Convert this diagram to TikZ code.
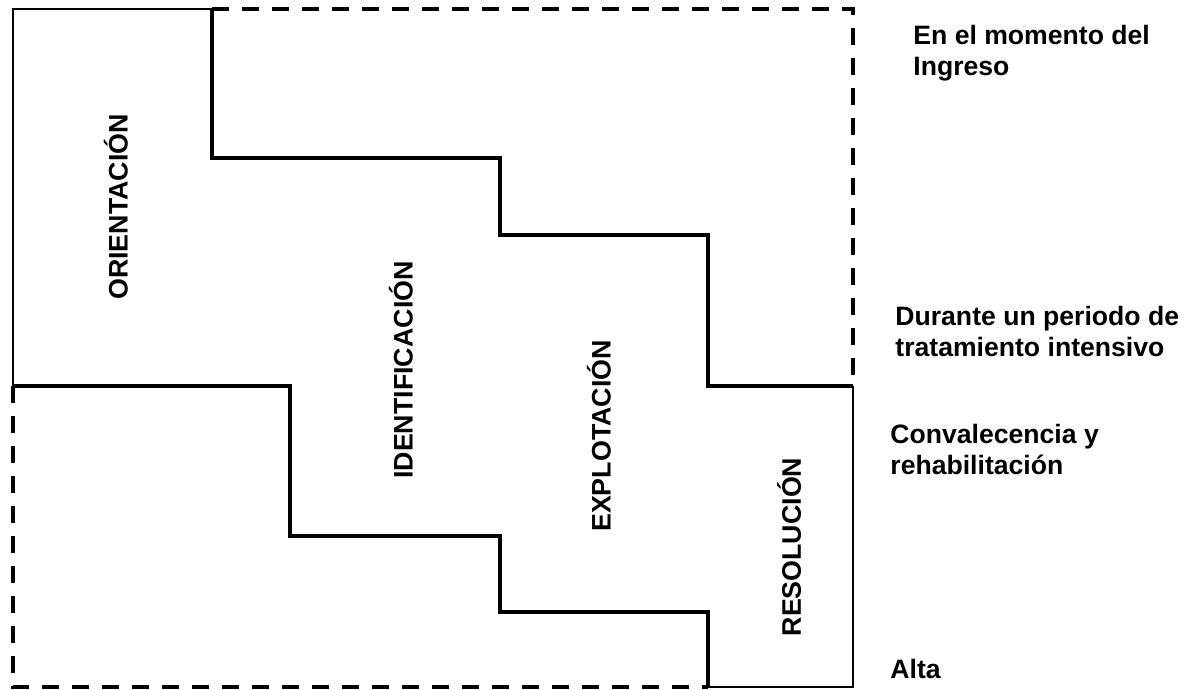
\documentclass[tikz,border=0pt]{standalone}
\usepackage{fontspec}
\setsansfont{Liberation Sans}
\usetikzlibrary{calc}

\begin{document}
\begin{tikzpicture}[
                % one unit is one pixel of the reference
                x=0.5pt, y=-0.5pt,
                frame/.style={line width=0.6pt},
                stair/.style={line width=1.6pt, line join=miter},
                dashframe/.style={line width=1.6pt, dash pattern=on 8.5pt off 6.5pt},
                phase/.style={rotate=90, inner sep=0pt, font=\sffamily\bfseries\fontsize{13.4}{15}\selectfont},
                moment/.style={anchor=north west, align=left, inner sep=0pt, font=\sffamily\bfseries\fontsize{13.3}{15.2}\selectfont}
            ]
                \useasboundingbox (0,0) rectangle (1196,690);

                % Corners
                \coordinate (tl) at (13,9);
                \coordinate (tr) at (853,9);
                \coordinate (bl) at (13,687);
                \coordinate (br) at (853,687);
                \coordinate (ml) at (13,386);
                \coordinate (mr) at (853,386);

                % Outline
                \draw[frame] (ml) -- (tl) -- (212,9);
                \draw[dashframe] (212,9) -- (tr) -- (mr);
                \draw[dashframe] (ml) -- (bl) -- (708,687);
                \draw[frame] (708,687) -- (br) -- (mr);

                % Steps
                \draw[stair] (212,9) -- (212,158) -- (500,158) -- (500,235) -- (708,235) -- (708,386) -- (mr);
                \draw[stair] (ml) -- (290,386) -- (290,536) -- (500,536) -- (500,612) -- (708,612) -- (708,687);

                % Phases
                \node[phase] (orient) at (116,207) {ORIENTACIÓN};
                \node[phase] (ident) at (401,370) {IDENTIFICACIÓN};
                \node[phase] (explot) at (599,436) {EXPLOTACIÓN};
                \node[phase] (resol) at (789,547) {RESOLUCIÓN};

                % Moments
                \node[moment] (ingreso) at (913,25) {En el momento del\\Ingreso};
                \node[moment] (intensivo) at (895,306) {Durante un periodo de\\tratamiento intensivo};
                \node[moment] (convalec) at (890,424) {Convalecencia y\\rehabilitación};
                \node[moment, anchor=base west] (alta) at (890,678) {Alta};

            \end{tikzpicture}
\end{document}
